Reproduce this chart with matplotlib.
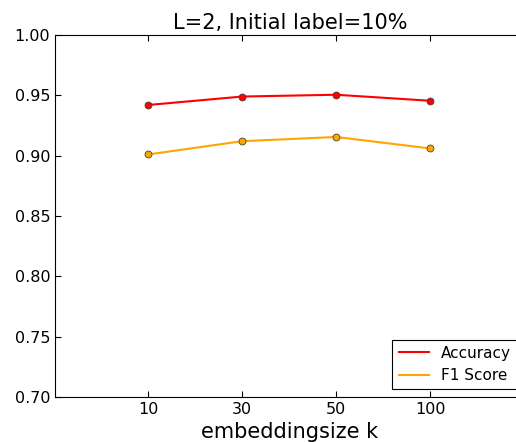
import matplotlib
matplotlib.use("Agg")
import matplotlib.pyplot as plt
from matplotlib.lines import Line2D

# embedding sizes (plotted at evenly spaced positions)
sizes = ["10", "30", "50", "100"]
accuracy = [0.942, 0.949, 0.9505, 0.9455]
f1_score = [0.901, 0.912, 0.9155, 0.906]

fig = plt.figure(figsize=(5.16, 4.42), dpi=100)
ax = fig.add_axes([0.1066, 0.1018, 0.911, 0.819])

pos = list(range(1, len(sizes) + 1))
ax.plot(pos, accuracy, color="red", lw=1.5, marker="o", ms=5,
        markeredgecolor="#444444", markeredgewidth=0.6)
ax.plot(pos, f1_score, color="orange", lw=1.5, marker="o", ms=5,
        markeredgecolor="#444444", markeredgewidth=0.6)

ax.set_xlim(0.01, 5.01)
ax.set_ylim(0.70, 1.00)
ax.set_xticks(pos)
ax.set_xticklabels(sizes)
ax.set_yticks([0.70, 0.75, 0.80, 0.85, 0.90, 0.95, 1.00])
ax.set_yticklabels(["%.2f" % v for v in ax.get_yticks()])
ax.tick_params(direction="in", top=True, right=True, labelsize=11.5, length=4)

ax.set_title("L=2, Initial label=10%", fontsize=15, pad=4)
ax.set_xlabel("embeddingsize k", fontsize=15)

handles = [Line2D([], [], color="red", lw=1.5),
           Line2D([], [], color="orange", lw=1.5)]
leg = ax.legend(handles, ["Accuracy", "F1 Score"], loc="lower right",
                fontsize=11, fancybox=False, framealpha=1,
                edgecolor="black", handlelength=2)
leg.get_frame().set_linewidth(0.8)

fig.savefig("out.png", dpi=100)
